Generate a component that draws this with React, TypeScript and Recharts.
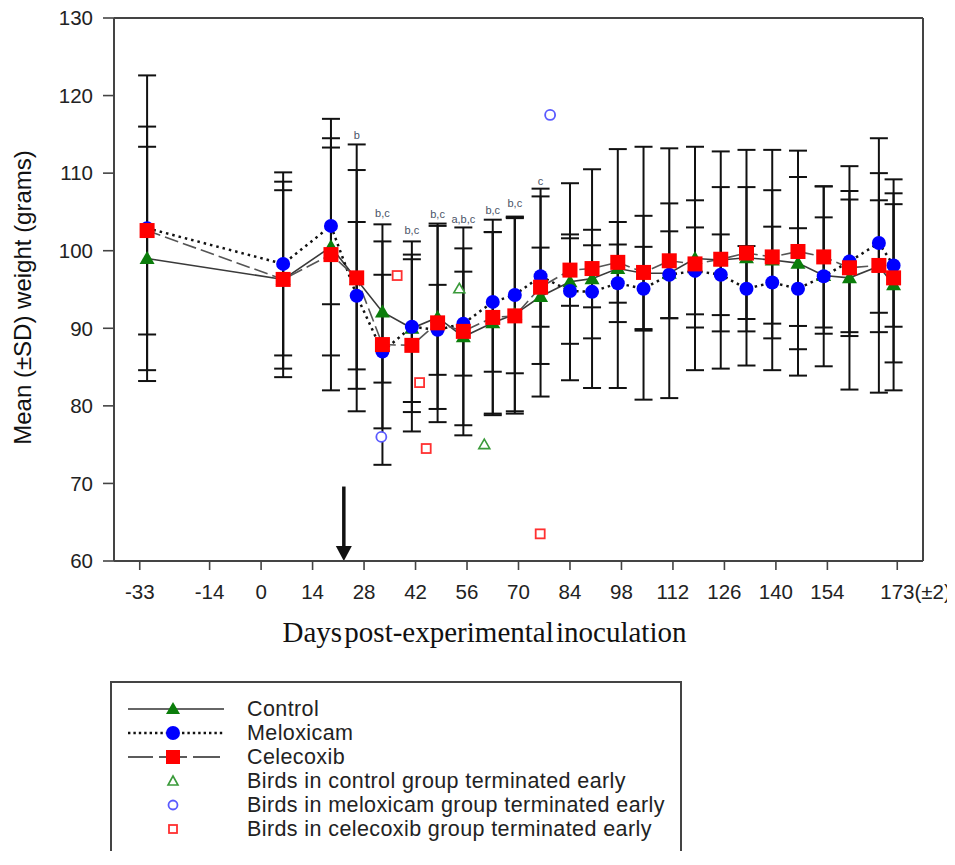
import React from 'react';
import { ComposedChart, Line, Scatter, XAxis, YAxis, ErrorBar, ReferenceLine } from 'recharts';

// ---------- data ----------
const days = [-31, 6, 19, 26, 33, 41, 48, 55, 63, 69, 76, 84, 90, 97, 104, 111, 118, 125, 132, 139, 146, 153, 160, 168, 172];

const controlMean = [99.0, 96.3, 100.5, 96.3, 92.1, 90.0, 91.4, 88.9, 90.7, 91.8, 94.1, 96.0, 96.4, 97.7, 97.1, 97.1, 99.0, 98.8, 99.1, 98.8, 98.4, 96.8, 96.5, 98.0, 95.6];
const controlSD = [14.4, 11.5, 14.0, 14.1, 9.1, 9.5, 11.8, 11.4, 11.7, 12.5, 12.9, 12.7, 14.1, 15.4, 16.3, 16.1, 14.4, 14.0, 13.9, 14.2, 14.5, 7.5, 14.4, 8.5, 13.6];

const meloxicamMean = [102.9, 98.3, 103.2, 94.2, 87.0, 90.2, 89.8, 90.6, 93.4, 94.3, 96.7, 94.8, 94.7, 95.8, 95.1, 96.9, 97.4, 96.9, 95.1, 95.9, 95.1, 96.7, 98.6, 101.0, 98.1];
const meloxicamSD = [19.7, 11.8, 10.1, 9.5, 9.9, 11.0, 5.8, 6.7, 9.0, 10.1, 11.3, 6.8, 6.0, 5.0, 5.4, 5.6, 5.6, 5.2, 5.5, 7.2, 7.8, 11.6, 9.1, 9.0, 7.9];

const celecoxibMean = [102.6, 96.3, 99.5, 96.5, 87.9, 87.8, 90.7, 89.6, 91.4, 91.6, 95.3, 97.5, 97.7, 98.5, 97.2, 98.7, 98.3, 98.9, 99.7, 99.2, 99.9, 99.2, 97.8, 98.1, 96.5];
const celecoxibSD = [13.4, 12.6, 17.5, 17.2, 15.5, 11.1, 12.8, 13.4, 12.6, 12.6, 5.1, 4.6, 5.0, 5.2, 7.3, 7.4, 8.2, 9.3, 8.5, 8.6, 9.6, 9.1, 8.8, 16.4, 10.9];

const controlEarlyDays = [53.9, 60.7];
const controlEarlyWeights = [95.1, 75.0];
const meloxicamEarlyDays = [32.7, 78.6];
const meloxicamEarlyWeights = [76.0, 117.5];
const celecoxibEarlyDays = [37.0, 43.1, 44.9, 75.9];
const celecoxibEarlyWeights = [96.8, 83.0, 74.5, 63.5];

const sigDays = [26, 33, 41, 48, 55, 63, 69, 76];
const sigTexts = ['b', 'b,c', 'b,c', 'b,c', 'a,b,c', 'b,c', 'b,c', 'c'];
const sigLevels = [114.9, 104.9, 102.7, 104.7, 104.1, 105.3, 106.1, 109.0];

const xTicks = [-33, -14, 0, 14, 28, 42, 56, 70, 84, 98, 112, 126, 140, 154, 173];
const lastTickSuffix = '(±2)';
const yTicks = [60, 70, 80, 90, 100, 110, 120, 130];

const arrowDay = 22.5;
const arrowTop = 69.6;

const xTitle = 'Days post-experimental inoculation';
const yTitle = 'Mean (±SD) weight (grams)';

const legendLabels = [
  'Control',
  'Meloxicam',
  'Celecoxib',
  'Birds in control group terminated early',
  'Birds in meloxicam group terminated early',
  'Birds in celecoxib group terminated early',
];

// ---------- derived tables ----------
const controlData = days.map((d, i) => ({ day: d, mean: controlMean[i], sd: controlSD[i] }));
const meloxicamData = days.map((d, i) => ({ day: d, mean: meloxicamMean[i], sd: meloxicamSD[i] }));
const celecoxibData = days.map((d, i) => ({ day: d, mean: celecoxibMean[i], sd: celecoxibSD[i] }));
const controlEarly = controlEarlyDays.map((d, i) => ({ day: d, w: controlEarlyWeights[i] }));
const meloxicamEarly = meloxicamEarlyDays.map((d, i) => ({ day: d, w: meloxicamEarlyWeights[i] }));
const celecoxibEarly = celecoxibEarlyDays.map((d, i) => ({ day: d, w: celecoxibEarlyWeights[i] }));
const sigData = sigDays.map((d, i) => ({ day: d, pos: sigLevels[i], text: sigTexts[i] }));

// ---------- styles ----------
const GREEN = '#0b7d0b';
const BLUE = '#0000ff';
const RED = '#ff0000';
const AXIS = '#444';
const SANS = '"Liberation Sans", Arial, sans-serif';
const SERIF = '"Liberation Serif", "Times New Roman", serif';

const ok = (...v: any[]) => v.every((n) => typeof n === 'number' && !isNaN(n));

const TriDot = (p: any) => {
  const { cx, cy } = p;
  if (!ok(cx, cy)) return <g key={p.key} />;
  return <polygon key={p.key} points={`${cx},${cy - 7.5} ${cx + 7.5},${cy + 5.5} ${cx - 7.5},${cy + 5.5}`} fill={GREEN} />;
};
const CircDot = (p: any) => {
  const { cx, cy } = p;
  if (!ok(cx, cy)) return <g key={p.key} />;
  return <circle key={p.key} cx={cx} cy={cy} r={7} fill={BLUE} />;
};
const SqDot = (p: any) => {
  const { cx, cy } = p;
  if (!ok(cx, cy)) return <g key={p.key} />;
  return <rect key={p.key} x={cx - 7.5} y={cy - 7.5} width={15} height={15} fill={RED} />;
};
const OpenTri = (p: any) => {
  const { cx, cy } = p;
  if (!ok(cx, cy)) return <g />;
  return <polygon points={`${cx},${cy - 5.5} ${cx + 5.5},${cy + 4} ${cx - 5.5},${cy + 4}`} fill="#fff" stroke="#3a9a3a" strokeWidth={1.6} />;
};
const OpenCirc = (p: any) => {
  const { cx, cy } = p;
  if (!ok(cx, cy)) return <g />;
  return <circle cx={cx} cy={cy} r={5} fill="#fff" stroke="#5a5aff" strokeWidth={1.8} />;
};
const OpenSq = (p: any) => {
  const { cx, cy } = p;
  if (!ok(cx, cy)) return <g />;
  return <rect x={cx - 4.5} y={cy - 4.5} width={9} height={9} fill="#fff" stroke="#ff3030" strokeWidth={1.8} />;
};
const SigText = (p: any) => {
  const { cx, cy, payload } = p;
  if (!ok(cx, cy)) return <g />;
  return (
    <text x={cx} y={cy} textAnchor="middle" dominantBaseline="central" fontSize={11} fontFamily={SANS} fill="#4a5468">
      {payload.text}
    </text>
  );
};

const ArrowShape = (p: any) => {
  const { x1, y1, x2, y2 } = p;
  if (!ok(x1, y1, x2, y2)) return <g />;
  const head = 15;
  return (
    <g>
      <line x1={x1} y1={y1} x2={x2} y2={y2 - head + 2} stroke="#111" strokeWidth={3.5} />
      <polygon points={`${x2 - 8},${y2 - head} ${x2 + 8},${y2 - head} ${x2},${y2}`} fill="#111" />
    </g>
  );
};

const XTick = (p: any) => {
  const { x, y, payload } = p;
  const v = payload.value;
  const isLast = v === xTicks[xTicks.length - 1];
  return (
    <text x={isLast ? x - 17 : x} y={y} dy="0.71em" textAnchor={isLast ? 'start' : 'middle'} fill="#222" fontSize={20.5} fontFamily={SANS}>
      {isLast ? `${v}${lastTickSuffix}` : `${v}`}
    </text>
  );
};

const XLabel = (p: any) => {
  const vb = p.viewBox || {};
  return (
    <text x={vb.x + vb.width / 2 - 34} y={vb.y + 71} textAnchor="middle" dominantBaseline="central" fontSize={29} fontFamily={SERIF} fill="#111" style={{ wordSpacing: '-5px' }}>
      {xTitle}
    </text>
  );
};

const YLabel = (p: any) => {
  const vb = p.viewBox || {};
  const cx = vb.x + 14;
  const cy = vb.y + vb.height / 2 + 8;
  return (
    <text x={cx} y={cy} transform={`rotate(-90 ${cx} ${cy})`} textAnchor="middle" dominantBaseline="central" fontSize={24} fontFamily={SANS} fill="#111">
      {yTitle}
    </text>
  );
};

const LegendIcon = ({ idx }: { idx: number }) => {
  const cy = 12;
  const mx = 45;
  if (idx === 0)
    return (
      <svg width={100} height={24}>
        <line x1={0} y1={cy} x2={96} y2={cy} stroke="#333" strokeWidth={1.6} />
        <polygon points={`${mx},${cy - 7} ${mx + 7},${cy + 5} ${mx - 7},${cy + 5}`} fill={GREEN} />
      </svg>
    );
  if (idx === 1)
    return (
      <svg width={100} height={24}>
        <line x1={0} y1={cy} x2={96} y2={cy} stroke="#111" strokeWidth={2.4} strokeDasharray="2.4 3" />
        <circle cx={mx} cy={cy} r={7} fill={BLUE} />
      </svg>
    );
  if (idx === 2)
    return (
      <svg width={100} height={24}>
        <line x1={0} y1={cy} x2={25} y2={cy} stroke="#333" strokeWidth={1.6} />
        <line x1={31} y1={cy} x2={38} y2={cy} stroke="#333" strokeWidth={1.6} />
        <line x1={52} y1={cy} x2={59} y2={cy} stroke="#333" strokeWidth={1.6} />
        <line x1={65} y1={cy} x2={92} y2={cy} stroke="#333" strokeWidth={1.6} />
        <rect x={mx - 7} y={cy - 7} width={14} height={14} fill={RED} />
      </svg>
    );
  if (idx === 3)
    return (
      <svg width={100} height={24}>
        <polygon points={`${mx},${cy - 5} ${mx + 5},${cy + 4} ${mx - 5},${cy + 4}`} fill="#fff" stroke="#3a9a3a" strokeWidth={1.6} />
      </svg>
    );
  if (idx === 4)
    return (
      <svg width={100} height={24}>
        <circle cx={mx} cy={cy} r={4.5} fill="#fff" stroke="#5a5aff" strokeWidth={1.8} />
      </svg>
    );
  return (
    <svg width={100} height={24}>
      <rect x={mx - 4} y={cy - 4} width={8} height={8} fill="#fff" stroke="#ff3030" strokeWidth={1.8} />
    </svg>
  );
};

const LegendBox = () => (
  <div
    style={{
      position: 'absolute',
      left: 102,
      top: 679,
      width: 572,
      height: 176,
      borderTop: '2px solid #444',
      borderLeft: '2px solid #444',
      borderRight: '2px solid #444',
      boxSizing: 'border-box',
      background: '#fff',
    }}
  >
    {legendLabels.map((lab, i) => (
      <div key={lab} style={{ position: 'absolute', left: 16, top: 14 + i * 24, height: 24, display: 'flex', alignItems: 'center' }}>
        <LegendIcon idx={i} />
        <span style={{ marginLeft: 19, fontFamily: SANS, fontSize: 21.5, letterSpacing: '0.4px', color: '#222', whiteSpace: 'nowrap', lineHeight: '24px' }}>{lab}</span>
      </div>
    ))}
  </div>
);

export default function App() {
  return (
    <div style={{ position: 'relative', width: 947, height: 849, marginTop: -6 }}>
      <style>{'html{overflow:hidden}'}</style>
      <ComposedChart width={947} height={656} margin={{ top: 16, right: 32, bottom: 7, left: 0 }}>
        <XAxis
          type="number"
          dataKey="day"
          domain={[-40, 180]}
          ticks={xTicks}
          interval={0}
          allowDataOverflow
          tick={XTick}
          tickSize={9}
          tickMargin={14}
          height={90}
          axisLine={{ stroke: AXIS, strokeWidth: 2 }}
          tickLine={{ stroke: AXIS, strokeWidth: 1.6 }}
          label={XLabel}
        />
        <YAxis
          type="number"
          domain={[60, 130]}
          ticks={yTicks}
          interval={0}
          allowDataOverflow
          width={106}
          tickSize={11}
          tickMargin={10}
          tick={{ fill: '#222', fontSize: 20.5, fontFamily: SANS }}
          axisLine={{ stroke: AXIS, strokeWidth: 2 }}
          tickLine={{ stroke: AXIS, strokeWidth: 1.6 }}
          label={YLabel}
        />
        <ReferenceLine y={130} stroke={AXIS} strokeWidth={2} />
        <ReferenceLine x={180} stroke={AXIS} strokeWidth={2} />
        <ReferenceLine segment={[{ x: arrowDay, y: arrowTop }, { x: arrowDay, y: 60 }]} shape={ArrowShape} ifOverflow="visible" />
        <Scatter data={sigData} dataKey="pos" shape={SigText} isAnimationActive={false} />
        <Scatter data={controlEarly} dataKey="w" shape={OpenTri} isAnimationActive={false} />
        <Scatter data={meloxicamEarly} dataKey="w" shape={OpenCirc} isAnimationActive={false} />
        <Scatter data={celecoxibEarly} dataKey="w" shape={OpenSq} isAnimationActive={false} />
        <Line data={controlData} dataKey="mean" stroke="#3a3a3a" strokeWidth={1.6} dot={TriDot} activeDot={false} isAnimationActive={false}>
          <ErrorBar dataKey="sd" width={9} stroke="#111" strokeWidth={2} direction="y" isAnimationActive={false} />
        </Line>
        <Line data={meloxicamData} dataKey="mean" stroke="#111" strokeWidth={2.5} strokeDasharray="2.5 4" dot={CircDot} activeDot={false} isAnimationActive={false}>
          <ErrorBar dataKey="sd" width={9} stroke="#111" strokeWidth={2} direction="y" isAnimationActive={false} />
        </Line>
        <Line data={celecoxibData} dataKey="mean" stroke="#555" strokeWidth={1.6} strokeDasharray="14 5" dot={SqDot} activeDot={false} isAnimationActive={false}>
          <ErrorBar dataKey="sd" width={9} stroke="#111" strokeWidth={2} direction="y" isAnimationActive={false} />
        </Line>
      </ComposedChart>
      <LegendBox />
    </div>
  );
}
